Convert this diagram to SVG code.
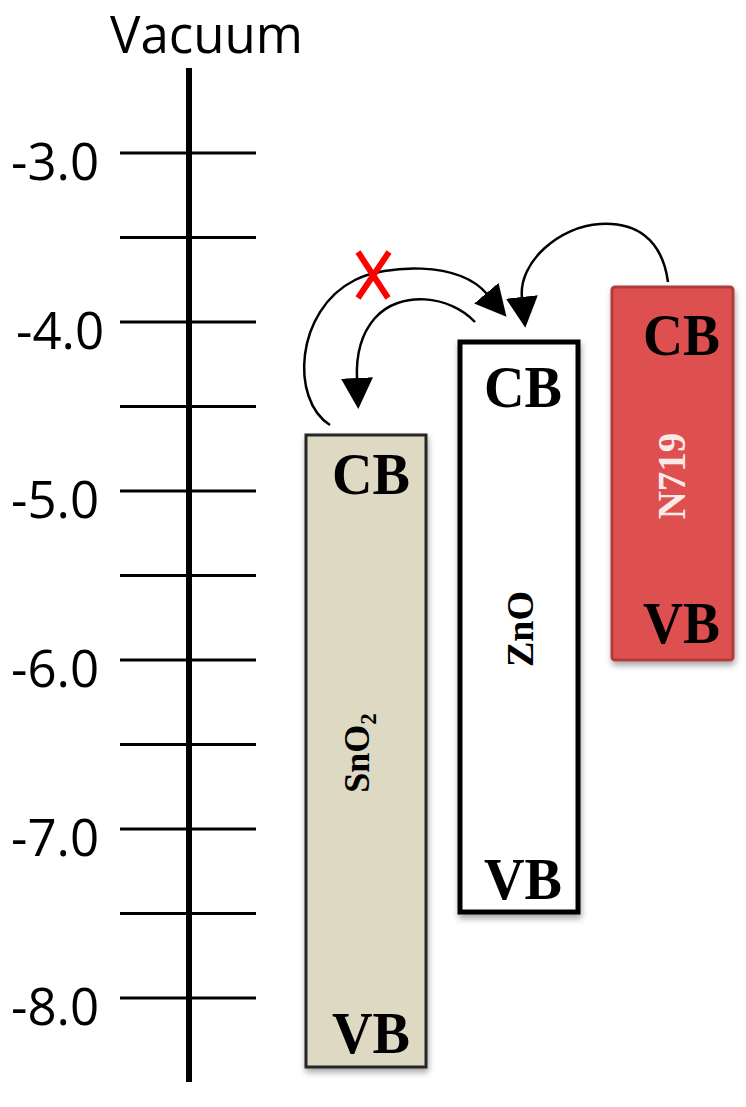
<svg xmlns="http://www.w3.org/2000/svg" width="746" height="1107" viewBox="0 0 746 1107">
<style>
.axis{stroke:#000;stroke-width:6;fill:none}
.tick{stroke:#000;stroke-width:3;fill:none}
.lbl{font-family:"Open Sans","Liberation Sans",sans-serif;font-size:51px;fill:#000}
.band{font-family:"Liberation Serif","Times New Roman",serif;font-weight:bold;font-size:60px;fill:#000}
.name{font-family:"Liberation Serif","Times New Roman",serif;font-weight:bold;text-anchor:middle}
.arr{stroke:#000;stroke-width:2.5;fill:none;marker-end:url(#ah)}
.cross{stroke:#ff0000;stroke-width:6;fill:none}
</style>
<defs>
<marker id="ah" markerUnits="userSpaceOnUse" viewBox="0 0 31 32" refX="1" refY="16" markerWidth="31" markerHeight="32" orient="auto">
<path d="M0,0 L31,16 L0,32 Z" fill="#000"/>
</marker>
<filter id="sh" x="-20%" y="-10%" width="140%" height="125%">
<feGaussianBlur in="SourceAlpha" stdDeviation="3"/>
<feOffset dx="1" dy="4" result="b"/>
<feComponentTransfer><feFuncA type="linear" slope="0.35"/></feComponentTransfer>
<feMerge><feMergeNode/><feMergeNode in="SourceGraphic"/></feMerge>
</filter>
</defs>
<rect width="746" height="1107" fill="#fff"/>
<g id="axis">
<text class="lbl" x="110" y="53" font-size="49">Vacuum</text>
<line class="axis" x1="189" y1="68" x2="189" y2="1082"/>
<line class="tick" x1="120" y1="153" x2="256" y2="153"/>
<line class="tick" x1="120" y1="237.5" x2="256" y2="237.5"/>
<line class="tick" x1="120" y1="322" x2="256" y2="322"/>
<line class="tick" x1="120" y1="406.5" x2="256" y2="406.5"/>
<line class="tick" x1="120" y1="491" x2="256" y2="491"/>
<line class="tick" x1="120" y1="575.5" x2="256" y2="575.5"/>
<line class="tick" x1="120" y1="660" x2="256" y2="660"/>
<line class="tick" x1="120" y1="744.5" x2="256" y2="744.5"/>
<line class="tick" x1="120" y1="829" x2="256" y2="829"/>
<line class="tick" x1="120" y1="913.5" x2="256" y2="913.5"/>
<line class="tick" x1="120" y1="998" x2="256" y2="998"/>
<text class="lbl" x="11" y="180">-3.0</text>
<text class="lbl" x="16" y="349">-4.0</text>
<text class="lbl" x="11" y="518">-5.0</text>
<text class="lbl" x="11" y="687">-6.0</text>
<text class="lbl" x="11" y="856">-7.0</text>
<text class="lbl" x="11" y="1025">-8.0</text>
</g>
<g id="SnO2">
<rect x="306" y="435" width="120" height="632" fill="#DDD9C3" stroke="#262626" stroke-width="3" filter="url(#sh)"/>
<text class="band" x="332" y="494" textLength="78" lengthAdjust="spacingAndGlyphs">CB</text>
<text class="band" x="332" y="1053" textLength="78" lengthAdjust="spacingAndGlyphs">VB</text>
<text class="name" transform="translate(369,753) rotate(-90)" font-size="36">SnO<tspan font-size="23" dy="7">2</tspan></text>
</g>
<g id="ZnO">
<rect x="460" y="342" width="118" height="570" fill="#fff" stroke="#000" stroke-width="5" filter="url(#sh)"/>
<text class="band" x="484" y="407" textLength="78" lengthAdjust="spacingAndGlyphs">CB</text>
<text class="band" x="484" y="899" textLength="78" lengthAdjust="spacingAndGlyphs">VB</text>
<text class="name" transform="translate(533,629) rotate(-90)" font-size="38">ZnO</text>
</g>
<g id="N719">
<rect x="612" y="287" width="121" height="373" rx="3" fill="#DE5050" stroke="#B03C3C" stroke-width="3" filter="url(#sh)"/>
<text class="band" x="643" y="355" textLength="77" lengthAdjust="spacingAndGlyphs">CB</text>
<text class="band" x="643" y="643" textLength="77" lengthAdjust="spacingAndGlyphs">VB</text>
<text class="name" transform="translate(685,476) rotate(-90)" font-size="39" fill="#fbe9e9">N719</text>
</g>
<g id="connectors">
<path class="arr" d="M668,282 C662,238 635,222 600,224 C560,226 518,262 522,298"/>
<path class="arr" d="M330,425 C290,400 295,310 355,280 C385,265 458,260 487,294"/>
<path class="arr" d="M475,322 C450,295 400,290 375,318 C360,335 356,356 357,379"/>
<line class="cross" x1="358" y1="252" x2="388" y2="298"/>
<line class="cross" x1="389" y1="252" x2="358" y2="298"/>
</g>
</svg>
